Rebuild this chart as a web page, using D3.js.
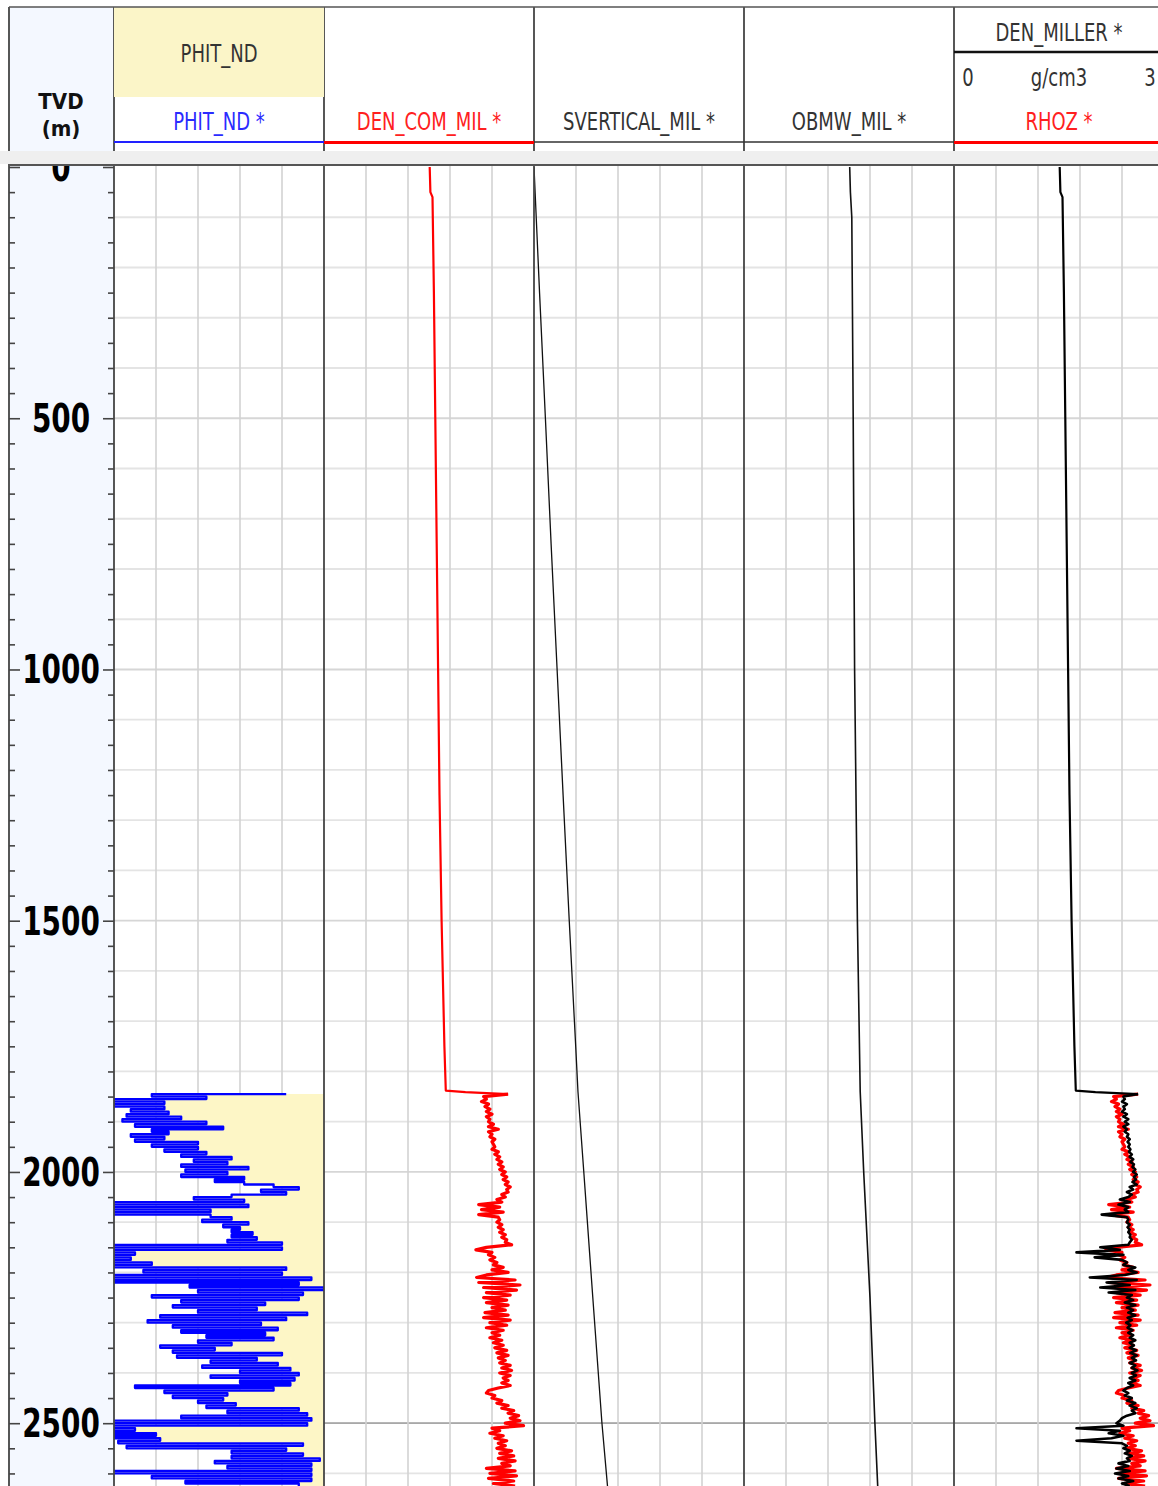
<!DOCTYPE html>
<html>
<head>
<meta charset="utf-8">
<script src="https://cdn.jsdelivr.net/npm/d3@7"></script>
<style>
  body { margin: 0; background: #fff; }
  svg { display: block; }
  .hdr { font-family: "Liberation Sans Narrow", "DejaVu Sans Condensed", "Arial Narrow", sans-serif; font-size: 20px; fill: #333; }
  .depthLabel { font-family: "DejaVu Sans Condensed", "Liberation Sans Narrow", sans-serif; font-weight: bold; font-size: 31px; fill: #000; }
  .tvd { font-family: "DejaVu Sans Condensed", "Liberation Sans", Arial, sans-serif; font-weight: bold; font-size: 22px; fill: #111; }
</style>
</head>
<body>
<script>
// ---- data -------------------------------------------------------------
var depthLabels = [0, 500, 1000, 1500, 2000, 2500];
var markerDepths = [2500];

// log samples, every 5 m from 1845 m TVD
var logStart = 1845, logStep = 5;

// PHIT_ND (v/v)
var phitNd = [
  .09,.41,.28,.51,.38,.50,.38,.46,.37,.47,
  .34,.48,.28,.45,.24,.41,.37,.46,.38,.45,
  .30,.41,.30,.38,.28,.34,.22,.31,.23,.34,
  .18,.33,.23,.34,.19,.26,.19,.12,.06,.15,
  .09,.22,.31,.19,.51,.18,.51,.27,.51,.27,
  .22,.29,.18,.24,.20,.22,.17,.22,.16,.23,
  .10,.51,.10,.51,.45,.51,.46,.51,.41,.51,
  .09,.43,.10,.51,.03,.51,.06,.32,.00,.30,
  .05,.41,.06,.34,.14,.36,.16,.30,.04,.39,
  .09,.42,.15,.36,.11,.34,.14,.28,.12,.30,
  .22,.39,.26,.36,.10,.35,.16,.27,.11,.29,
  .08,.20,.06,.27,.07,.20,.08,.45,.12,.38,
  .23,.36,.24,.30,.21,.28,.06,.23,.04,.34,
  .03,.51,.04,.51,.45,.51,.40,.51,.39,.49,
  .05,.47,.09,.22,.05,.22,.01,.26,.03,.23,
  .03,.51,.03,.41,.03,.33,.06
];

// RHOZ (g/cm3)
var rhoz = [
  2.63,2.28,2.32,2.25,2.35,2.30,2.37,2.32,2.40,2.32,
  2.37,2.35,2.42,2.35,2.49,2.35,2.40,2.37,2.44,2.40,
  2.42,2.44,2.40,2.49,2.44,2.51,2.47,2.54,2.49,2.56,
  2.51,2.59,2.54,2.61,2.56,2.63,2.59,2.66,2.61,2.63,
  2.54,2.59,2.47,2.54,2.21,2.51,2.25,2.56,2.21,2.49,
  2.51,2.47,2.54,2.49,2.56,2.51,2.59,2.54,2.61,2.59,
  2.68,2.32,2.17,2.40,2.35,2.44,2.37,2.47,2.42,2.56,
  2.40,2.63,2.32,2.18,2.73,2.21,2.80,2.28,2.75,2.32,
  2.66,2.28,2.61,2.32,2.63,2.40,2.59,2.30,2.63,2.28,
  2.66,2.37,2.61,2.32,2.56,2.40,2.51,2.37,2.54,2.42,
  2.56,2.44,2.61,2.47,2.63,2.49,2.59,2.51,2.66,2.54,
  2.68,2.51,2.66,2.56,2.63,2.54,2.66,2.49,2.35,2.32,
  2.44,2.40,2.54,2.47,2.63,2.54,2.71,2.63,2.78,2.66,
  2.80,2.59,2.85,2.40,2.51,2.37,2.56,2.44,2.61,2.49,
  2.59,2.47,2.68,2.51,2.71,2.49,2.73,2.54,2.66,2.32,
  2.73,2.37,2.75,2.35,2.71,2.42,2.73
];

// DEN_MILLER (g/cm3): sparse upper trend, then sampled section
var denTopDepth = [0, 50, 60, 250, 500, 750, 1000, 1250, 1500, 1750, 1838, 1841];
var denTopValue = [1.51, 1.52, 1.55, 1.57, 1.59, 1.61, 1.63, 1.65, 1.68, 1.72, 1.74, 2.02];
var denMillerDeep = [
  2.63,2.42,2.44,2.40,2.47,2.42,2.44,2.40,2.47,2.42,
  2.49,2.44,2.49,2.42,2.47,2.44,2.49,2.47,2.51,2.48,
  2.51,2.49,2.52,2.50,2.54,2.51,2.56,2.52,2.57,2.55,
  2.59,2.56,2.61,2.57,2.60,2.55,2.61,2.51,2.56,2.47,
  2.54,2.49,2.37,2.51,2.35,2.49,2.44,2.49,2.11,2.47,
  2.49,2.47,2.51,2.48,2.51,2.49,2.52,2.51,2.54,2.51,
  2.49,2.09,2.37,1.75,2.42,2.01,2.40,2.47,2.42,2.59,
  2.49,2.61,2.44,1.94,2.61,2.18,2.51,2.09,2.59,2.21,
  2.54,2.47,2.56,2.44,2.59,2.47,2.56,2.49,2.59,2.48,
  2.54,2.46,2.52,2.48,2.55,2.49,2.56,2.51,2.59,2.51,
  2.57,2.51,2.60,2.52,2.61,2.54,2.60,2.51,2.59,2.54,
  2.62,2.54,2.60,2.51,2.59,2.49,2.56,2.47,2.42,2.49,
  2.44,2.54,2.47,2.59,2.51,2.61,2.54,2.59,2.47,2.40,
  2.37,2.32,2.42,1.75,2.37,2.21,2.42,2.25,1.75,2.40,
  2.47,2.42,2.51,2.44,2.54,2.47,2.51,2.35,2.49,2.32,
  2.51,2.30,2.49,2.35,2.56,2.40,2.51
];

// SVERTICAL_MIL (MPa) and OBMW_MIL (g/cm3)
var svDepth = [0, 250, 500, 750, 1000, 1250, 1500, 1750, 1840, 2000, 2250, 2500, 2625];
var svertical = [0, 3.7, 7.6, 11.4, 15.4, 19.4, 23.5, 27.8, 29.3, 33.2, 39.2, 45.3, 49.0];
var obmwDepth = [0, 50, 100, 500, 1000, 1500, 1840, 2000, 2250, 2500, 2625];
var obmw = [1.51, 1.52, 1.54, 1.56, 1.58, 1.62, 1.66, 1.71, 1.80, 1.87, 1.91];

// ---- layout -------------------------------------------------------------
var W = 1158, H = 1486;
var left = 9, depthRight = 114, trackW = 210;
var hdrTop = 7, hdrBottom = 151, plotTop = 165;

function trackLeft(k) { return depthRight + k * trackW; }

var y = d3.scaleLinear().domain([0, 2625]).range([167, 1486]);
var xPhit = d3.scaleLinear().domain([0.5, 0]).range([trackLeft(0), trackLeft(1)]);
var xDenCom = d3.scaleLinear().domain([0, 3]).range([trackLeft(1), trackLeft(2)]);
var xSv = d3.scaleLinear().domain([0, 140]).range([trackLeft(2), trackLeft(3)]);
var xObmw = d3.scaleLinear().domain([0, 3]).range([trackLeft(3), trackLeft(4)]);
var xDen = d3.scaleLinear().domain([0, 3]).range([trackLeft(4), trackLeft(5)]);

function logPoints(values) {
    return values.map(function(v, i) { return {d: logStart + i * logStep, v: v}; });
}
function pairPoints(depths, values) {
    return depths.map(function(d, i) { return {d: d, v: values[i]}; });
}

var phitPts = logPoints(phitNd);
var denTopPts = pairPoints(denTopDepth, denTopValue);
var rhozPts = logPoints(rhoz);
var denMillerPts = logPoints(denMillerDeep);
var svPts = pairPoints(svDepth, svertical);
var obmwPts = pairPoints(obmwDepth, obmw);

// ---- drawing ------------------------------------------------------------
var svg = d3.select("body").append("svg").attr("width", W).attr("height", H);
var defs = svg.append("defs");

function clipFor(id, x0, x1, y0, y1) {
    defs.append("clipPath").attr("id", id).append("rect")
        .attr("x", x0).attr("y", y0).attr("width", x1 - x0).attr("height", y1 - y0);
    return "url(#" + id + ")";
}

// depth track background
svg.append("rect").attr("x", left).attr("y", hdrTop).attr("width", depthRight - left)
    .attr("height", H - hdrTop).attr("fill", "#f4f8ff");

// grid
var grid = svg.append("g").attr("class", "grid");
var hLines = d3.range(100, 2700, 100);
grid.selectAll("line.h").data(hLines).enter().append("line")
    .attr("class", "h")
    .attr("x1", depthRight).attr("x2", W)
    .attr("y1", function(d) { return y(d); }).attr("y2", function(d) { return y(d); })
    .attr("stroke", function(d) { return d % 500 === 0 ? "#d6d6d6" : "#e4e4e4"; })
    .attr("stroke-width", 1.8);
grid.selectAll("line.m").data(markerDepths).enter().append("line")
    .attr("class", "m")
    .attr("x1", depthRight).attr("x2", W)
    .attr("y1", function(d) { return y(d); }).attr("y2", function(d) { return y(d); })
    .attr("stroke", "#a8a8a8").attr("stroke-width", 1.8);

var vLines = [];
[xPhit, xDenCom, xSv, xObmw, xDen].forEach(function(sc) {
    var r = sc.range();
    d3.range(1, 5).forEach(function(j) { vLines.push(r[0] + j * (r[1] - r[0]) / 5); });
});
grid.selectAll("line.v").data(vLines).enter().append("line")
    .attr("class", "v")
    .attr("x1", function(d) { return d; }).attr("x2", function(d) { return d; })
    .attr("y1", plotTop).attr("y2", H)
    .attr("stroke", "#d2d2d2").attr("stroke-width", 1.6);

// curves
function drawTrack(k, id) {
    var x0 = trackLeft(k), x1 = Math.min(trackLeft(k + 1), W);
    return svg.append("g").attr("clip-path", clipFor(id, x0, x1, plotTop, H));
}
function lineFor(sc, curve) {
    return d3.line().curve(curve || d3.curveLinear)
        .x(function(p) { return sc(p.v); }).y(function(p) { return y(p.d); });
}
function curvePath(g, pts, sc, color, width, curve) {
    g.append("path").datum(pts).attr("d", lineFor(sc, curve))
        .attr("fill", "none").attr("stroke", color).attr("stroke-width", width)
        .attr("stroke-linejoin", "round");
}
var stepped = d3.curveStepAfter;

var t1 = drawTrack(0, "clipPhit");
t1.append("path").datum(phitPts)
    .attr("d", d3.area().curve(stepped).y(function(p) { return y(p.d); })
        .x0(function(p) { return xPhit(p.v); }).x1(xPhit(0)))
    .attr("fill", "#fdf6c6");
curvePath(t1, phitPts, xPhit, "#0000ff", 2.3, stepped);

// DEN_COM_MIL: DEN_MILLER trend above, RHOZ below
var t2 = drawTrack(1, "clipDenCom");
curvePath(t2, denTopPts.concat(rhozPts.slice(0, 1)), xDenCom, "#ff0000", 2.2);
curvePath(t2, rhozPts, xDenCom, "#ff0000", 3.2);

var t3 = drawTrack(2, "clipSv");
curvePath(t3, svPts, xSv, "#111", 1.3);

var t4 = drawTrack(3, "clipObmw");
curvePath(t4, obmwPts, xObmw, "#111", 1.6);

var t5 = drawTrack(4, "clipDen");
curvePath(t5, rhozPts, xDen, "#ff0000", 3.2);
curvePath(t5, denTopPts.concat(denMillerPts.slice(0, 1)), xDen, "#000", 2.2);
curvePath(t5, denMillerPts, xDen, "#000", 2.6);

// depth axis ticks, both sides of the depth track
var ticks = svg.append("g").attr("class", "depthTicks");
function tickAxis(axis, x, size, values) {
    var g = ticks.append("g").attr("transform", "translate(" + x + ",0)")
        .call(axis.tickValues(values).tickSize(size).tickSizeOuter(0).tickFormat(""));
    g.select(".domain").remove();
    g.selectAll("line").attr("stroke", "#444").attr("stroke-width", 1.6);
}
var minorDepths = d3.range(0, 2626, 50).filter(function(d) { return d % 500 !== 0; });
tickAxis(d3.axisRight(y), left, 6, minorDepths);
tickAxis(d3.axisLeft(y), depthRight, 6, minorDepths);
tickAxis(d3.axisRight(y), left, 11, depthLabels);
tickAxis(d3.axisLeft(y), depthRight, 11, depthLabels);

var labels = svg.append("g").attr("clip-path", clipFor("clipDepth", left, depthRight, plotTop, H));
labels.selectAll("text").data(depthLabels).enter().append("text")
    .attr("class", "depthLabel")
    .attr("transform", function(d) { return "translate(61," + y(d) + ") scale(1,1.25)"; })
    .attr("dy", "0.36em")
    .attr("text-anchor", "middle")
    .text(function(d) { return d; });

// borders of the plot area
var borders = svg.append("g");
[left, trackLeft(0), trackLeft(1), trackLeft(2), trackLeft(3), trackLeft(4)].forEach(function(x) {
    borders.append("line").attr("x1", x).attr("x2", x).attr("y1", hdrTop).attr("y2", H)
        .attr("stroke", "#444").attr("stroke-width", 1.8);
});

// ---- header -------------------------------------------------------------
var header = svg.append("g").attr("class", "header");
header.append("rect").attr("x", trackLeft(0)).attr("y", hdrTop).attr("width", trackW).attr("height", 90)
    .attr("fill", "#fbf5c8");
header.append("line").attr("x1", left).attr("x2", W).attr("y1", hdrTop).attr("y2", hdrTop)
    .attr("stroke", "#555").attr("stroke-width", 1.6);

function hdrText(x, yBase, txt, color) {
    return header.append("text").attr("class", "hdr")
        .attr("transform", "translate(" + x + "," + yBase + ") scale(1,1.2)")
        .attr("text-anchor", "middle")
        .style("fill", color || "#333")
        .text(txt);
}
function hdrLine(k, x1, yy, color, w) {
    header.append("line").attr("x1", trackLeft(k)).attr("x2", Math.min(x1, W))
        .attr("y1", yy).attr("y2", yy).attr("stroke", color).attr("stroke-width", w);
}

header.append("text").attr("class", "tvd").attr("x", 61).attr("y", 109)
    .attr("text-anchor", "middle").text("TVD");
header.append("text").attr("class", "tvd").attr("x", 61).attr("y", 136)
    .attr("text-anchor", "middle").text("(m)");

var mid = function(k) { return trackLeft(k) + trackW / 2; };
hdrText(mid(0), 62, "PHIT_ND");
hdrText(mid(0), 130, "PHIT_ND *", "#2b2bff");
hdrLine(0, trackLeft(1), 142, "#2222ff", 2);

hdrText(mid(1), 130, "DEN_COM_MIL *", "#ff2020");
hdrLine(1, trackLeft(2), 142.5, "#ff0000", 3);

hdrText(mid(2), 130, "SVERTICAL_MIL *");
hdrLine(2, trackLeft(3), 142, "#333", 1.4);

hdrText(mid(3), 130, "OBMW_MIL *");
hdrLine(3, trackLeft(4), 142, "#333", 1.4);

hdrText(mid(4), 41, "DEN_MILLER *");
hdrLine(4, W, 52, "#111", 2.6);
hdrText(trackLeft(4) + 14, 86, xDen.domain()[0]);
hdrText(mid(4), 86, "g/cm3");
hdrText(W - 8, 86, xDen.domain()[1]);
hdrText(mid(4), 130, "RHOZ *", "#ff2020");
hdrLine(4, W, 142.5, "#ff0000", 3);

// separator band between header and plot
svg.append("rect").attr("x", 0).attr("y", hdrBottom).attr("width", W).attr("height", plotTop - hdrBottom - 1)
    .attr("fill", "#efefef");
svg.append("line").attr("x1", left).attr("x2", W).attr("y1", plotTop).attr("y2", plotTop)
    .attr("stroke", "#555").attr("stroke-width", 2);
</script>
</body>
</html>
